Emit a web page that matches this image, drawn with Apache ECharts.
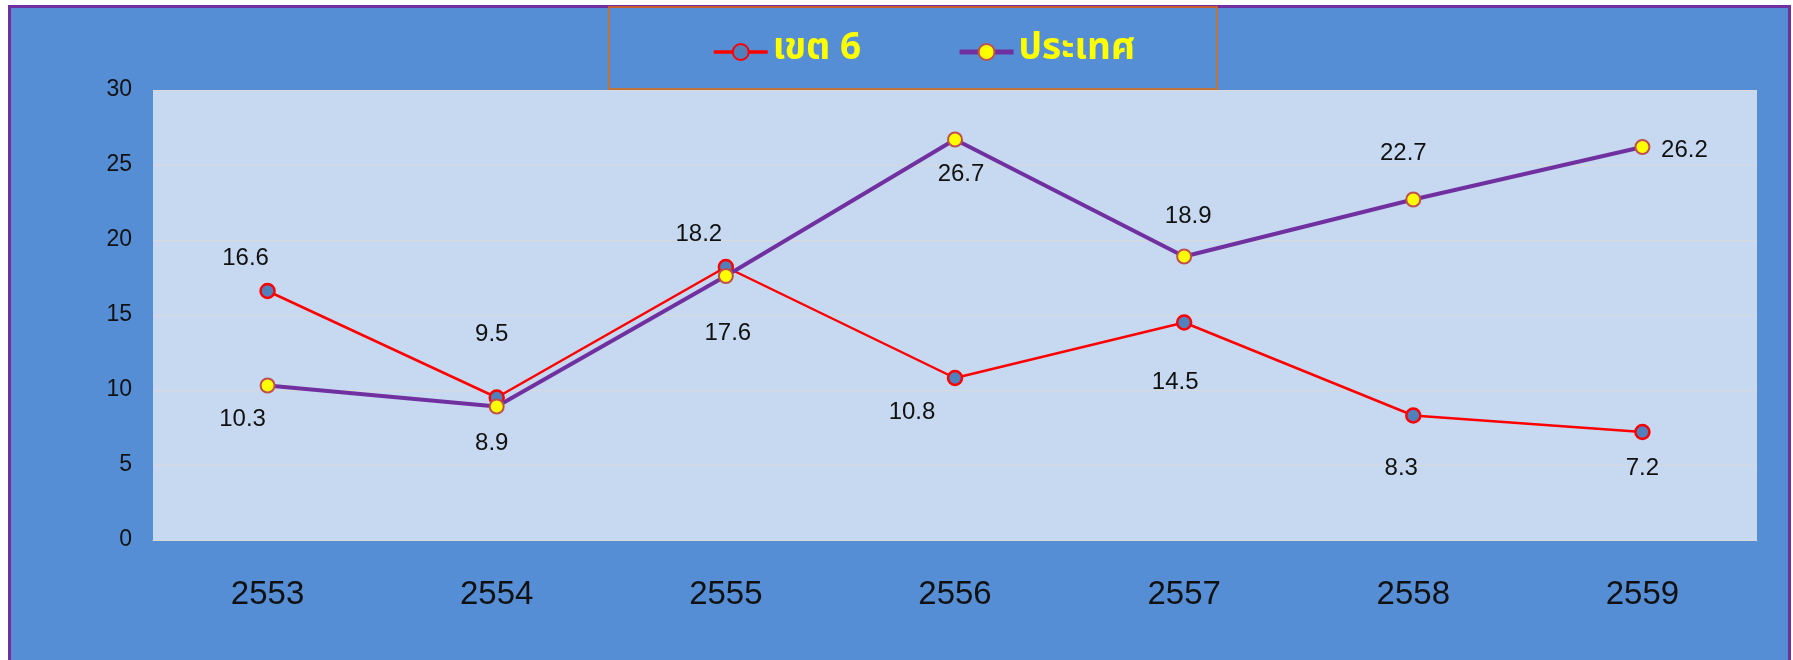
<!DOCTYPE html>
<html>
<head>
<meta charset="utf-8">
<script src="https://cdn.jsdelivr.net/npm/echarts@6/dist/echarts.min.js"></script>
<style>
  html, body { margin: 0; padding: 0; background: #ffffff; }
  #chart { width: 1793px; height: 660px; }
</style>
</head>
<body>
<div id="chart"></div>
<script>
// ---- data ----
const years = ['2553', '2554', '2555', '2556', '2557', '2558', '2559'];
const zone6 = [16.6, 9.5, 18.2, 10.8, 14.5, 8.3, 7.2];
const country = [10.3, 8.9, 17.6, 26.7, 18.9, 22.7, 26.2];
const seriesNames = ['เขต 6', 'ประเทศ'];
const yTicks = { min: 0, max: 30, interval: 5 };

// ---- label placement (style, not data) ----
const zone6LabelOffset = [[-22, -33], [-5, -63], [-27, -33], [-43, 34], [-9, 60], [-12, 53], [0, 36]];
const countryLabelOffset = [[-25, 34], [-5, 37], [2, 57], [6, 35], [4, -40], [-10, -46], [42, 3]];

const labelFont = { fontFamily: 'Liberation Sans, Arial, sans-serif', fontSize: 24, color: '#111111' };

function withLabels(values, offsets) {
  return values.map((v, i) => ({
    value: v,
    label: { show: true, position: 'inside', offset: offsets[i], ...labelFont }
  }));
}

const chart = echarts.init(document.getElementById('chart'), null, { renderer: 'canvas' });
chart.setOption({
  backgroundColor: '#ffffff',
  animation: false,
  graphic: [
    {
      type: 'rect', z: -10, silent: true,
      shape: { x: 9.5, y: 6.5, width: 1780, height: 700 },
      style: { fill: '#558ED5', stroke: '#7030A0', lineWidth: 3 }
    },
    {
      type: 'rect', z: -5, silent: true,
      shape: { x: 609, y: 7, width: 608, height: 82 },
      style: { fill: 'none', stroke: '#E46C0A', lineWidth: 1.5 }
    }
  ],
  legend: {
    left: 707, top: 25,
    itemWidth: 54, itemHeight: 20, itemGap: 96,
    data: [
      { name: seriesNames[0], lineStyle: { width: 3.5 } },
      { name: seriesNames[1], lineStyle: { width: 5 } }
    ],
    textStyle: {
      color: '#FFFF00', fontWeight: 'bold', fontSize: 37, lineHeight: 44,
      fontFamily: 'Noto Sans Thai, Noto Sans, DejaVu Sans, sans-serif'
    }
  },
  grid: {
    left: 153, top: 90, right: 1793 - 1757, bottom: 660 - 540,
    show: true, backgroundColor: '#C6D9F0', borderWidth: 0
  },
  xAxis: {
    type: 'category', data: years, boundaryGap: true,
    axisLine: { show: true, lineStyle: { color: '#D9D9D9', width: 1 } },
    axisTick: { show: false },
    axisLabel: { margin: 38, fontSize: 33, color: '#111111', fontFamily: 'Liberation Sans, Arial, sans-serif' }
  },
  yAxis: {
    type: 'value', min: yTicks.min, max: yTicks.max, interval: yTicks.interval,
    axisLine: { show: false }, axisTick: { show: false },
    splitLine: { show: true, lineStyle: { color: '#D9D9D9', width: 1 } },
    axisLabel: { margin: 21, fontSize: 23, color: '#111111', fontFamily: 'Liberation Sans, Arial, sans-serif' }
  },
  series: [
    {
      name: seriesNames[0], type: 'line', data: withLabels(zone6, zone6LabelOffset),
      symbol: 'circle', symbolSize: 14,
      lineStyle: { color: '#FF0000', width: 2.5 },
      itemStyle: { color: '#4F81BD', borderColor: '#FF0000', borderWidth: 2.5 },
      z: 2
    },
    {
      name: seriesNames[1], type: 'line', data: withLabels(country, countryLabelOffset),
      symbol: 'circle', symbolSize: 14,
      lineStyle: { color: '#7030A0', width: 4 },
      itemStyle: { color: '#FFFF00', borderColor: '#C0504D', borderWidth: 2 },
      z: 3
    }
  ]
});
</script>
</body>
</html>
